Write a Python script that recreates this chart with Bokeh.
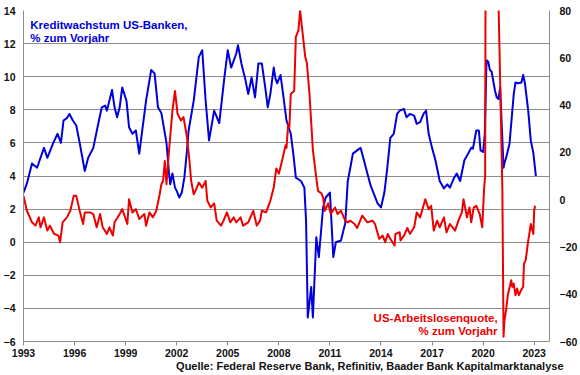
from bokeh.plotting import figure
from bokeh.models import Range1d, LinearAxis, FixedTicker, Label, Title
from bokeh.embed import file_html
from bokeh.resources import INLINE

# Credit growth of US banks, % yoy (left axis)
blue_x = [1993.0, 1993.2, 1993.5, 1993.8, 1994.0, 1994.2, 1994.4, 1994.75, 1995.0, 1995.2,
          1995.35, 1995.55, 1995.7, 1995.9, 1996.1, 1996.3, 1996.6, 1996.8, 1997.1, 1997.4,
          1997.6, 1997.8, 1997.9, 1998.2, 1998.35, 1998.5, 1998.65, 1998.8, 1999.05, 1999.2,
          1999.4, 1999.6, 1999.8, 2000.0, 2000.2, 2000.5, 2000.7, 2000.9, 2001.1, 2001.4,
          2001.55, 2001.62, 2001.75, 2001.9, 2002.0, 2002.15, 2002.3, 2002.45, 2002.6, 2002.7,
          2003.0, 2003.3, 2003.5, 2003.7, 2003.9, 2004.2, 2004.5, 2004.8, 2005.0, 2005.2,
          2005.5, 2005.6, 2005.8, 2006.05, 2006.2, 2006.4, 2006.6, 2006.8, 2007.0, 2007.2,
          2007.35, 2007.5, 2007.7, 2007.8, 2007.9, 2008.1, 2008.25, 2008.45, 2008.7, 2008.85,
          2009.0, 2009.3, 2009.5, 2009.6, 2009.7, 2009.9, 2010.0, 2010.2, 2010.35, 2010.6,
          2010.75, 2011.0, 2011.2, 2011.35, 2011.65, 2011.9, 2012.05, 2012.2, 2012.35, 2012.6,
          2012.8, 2013.0, 2013.2, 2013.4, 2013.8, 2014.0, 2014.2, 2014.35, 2014.55, 2014.75,
          2014.95, 2015.1, 2015.35, 2015.5, 2015.7, 2015.95, 2016.1, 2016.3, 2016.5, 2016.65,
          2016.8, 2017.0, 2017.2, 2017.45, 2017.7, 2017.9, 2018.05, 2018.3, 2018.45, 2018.65,
          2018.9, 2019.15, 2019.3, 2019.4, 2019.6, 2019.75, 2019.85, 2020.0, 2020.1, 2020.2,
          2020.3, 2020.4, 2020.5, 2020.7, 2020.8, 2020.9, 2021.0, 2021.1, 2021.2, 2021.25,
          2021.35, 2021.55, 2021.65, 2021.8, 2021.9, 2022.05, 2022.25, 2022.35, 2022.45, 2022.65,
          2022.8, 2022.95, 2023.1]
blue_y = [3.0, 3.55, 4.75, 4.5, 5.1, 5.7, 5.1, 6.0, 6.55, 6.0,
          7.35, 7.5, 7.75, 7.35, 7.05, 6.0, 4.3, 5.1, 5.7, 7.2,
          8.15, 8.25, 7.95, 9.2, 8.15, 7.55, 8.15, 9.35, 8.55, 6.95,
          6.55, 6.75, 5.35, 6.95, 8.55, 10.4, 10.2, 8.15, 7.8, 6.0,
          4.15, 3.5, 4.15, 3.3, 3.1, 2.7, 3.0, 3.9, 5.5, 6.75,
          8.55, 11.2, 11.6, 8.55, 6.15, 7.95, 7.2, 9.95, 11.6, 10.55,
          11.4, 11.9, 10.8, 9.75, 8.95, 9.95, 8.75, 10.8, 10.8, 9.35,
          8.15, 8.95, 10.55, 9.9, 9.6, 10.1, 8.95, 7.35, 6.55, 5.35,
          3.9, 3.7, 3.3, 1.3, -4.55, -2.7, -4.55, 0.3, -0.9, 2.1,
          2.7, 3.0, -0.9, 0.0, 0.1, 1.15, 3.7, 4.5, 5.35, 5.55,
          5.7, 4.95, 4.15, 3.4, 2.35, 2.1, 3.0, 4.3, 6.3, 6.55,
          7.75, 7.95, 8.05, 7.55, 7.75, 7.65, 7.15, 7.25, 7.75, 7.95,
          6.55, 5.7, 4.95, 3.7, 3.25, 3.5, 3.3, 3.9, 4.15, 3.7,
          4.95, 5.4, 5.7, 5.65, 6.75, 6.75, 5.55, 5.45, 6.55, 11.0,
          10.9, 10.4, 10.3, 9.15, 8.75, 8.65, 9.35, 6.95, 4.5, 4.75,
          5.1, 5.95, 7.15, 8.95, 9.65, 9.6, 9.65, 10.1, 9.65, 7.95,
          6.15, 5.4, 4.0]

# US unemployment rate, % yoy (right axis)
red_x = [1993.0, 1993.2, 1993.5, 1993.7, 1993.9, 1994.0, 1994.2, 1994.4, 1994.55, 1994.8,
         1995.05, 1995.15, 1995.3, 1995.55, 1995.75, 1995.95, 1996.1, 1996.3, 1996.5, 1996.6,
         1996.9, 1997.1, 1997.3, 1997.5, 1997.65, 1997.9, 1998.05, 1998.25, 1998.35, 1998.65,
         1998.8, 1999.1, 1999.2, 1999.4, 1999.6, 1999.8, 2000.1, 2000.2, 2000.4, 2000.6,
         2000.8, 2001.0, 2001.1, 2001.2, 2001.3, 2001.4, 2001.55, 2001.75, 2001.9, 2002.05,
         2002.25, 2002.4, 2002.6, 2002.75, 2002.85, 2003.0, 2003.1, 2003.3, 2003.5, 2003.7,
         2003.8, 2004.0, 2004.2, 2004.35, 2004.6, 2004.75, 2004.95, 2005.15, 2005.35, 2005.5,
         2005.75, 2005.9, 2006.2, 2006.5, 2006.7, 2006.9, 2007.0, 2007.25, 2007.5, 2007.7,
         2007.85, 2008.0, 2008.15, 2008.4, 2008.45, 2008.55, 2008.62, 2008.7, 2008.9, 2009.0,
         2009.15, 2009.25, 2009.4, 2009.55, 2009.65, 2009.8, 2010.0, 2010.2, 2010.3, 2010.5,
         2010.6, 2010.7, 2010.9, 2011.05, 2011.3, 2011.45, 2011.65, 2011.9, 2012.05, 2012.2,
         2012.45, 2012.6, 2012.9, 2013.2, 2013.5, 2013.65, 2013.9, 2014.1, 2014.25, 2014.4,
         2014.55, 2014.8, 2014.85, 2015.1, 2015.15, 2015.35, 2015.55, 2015.7, 2015.95, 2016.1,
         2016.3, 2016.55, 2016.6, 2016.8, 2016.95, 2017.1, 2017.3, 2017.45, 2017.7, 2017.85,
         2018.05, 2018.35, 2018.55, 2018.75, 2018.85, 2019.05, 2019.2, 2019.3, 2019.45, 2019.6,
         2019.8, 2019.95, 2020.05, 2020.12, 2020.2, 2020.3, 2020.4, 2020.5, 2020.6, 2020.7,
         2020.8, 2020.9, 2021.13, 2021.2, 2021.25, 2021.35, 2021.45, 2021.65, 2021.72, 2021.8,
         2021.9, 2022.0, 2022.1, 2022.25, 2022.35, 2022.4, 2022.5, 2022.65, 2022.7, 2022.8,
         2022.95, 2023.0, 2023.05]
red_y = [1.6, -4.7, -9.6, -11.0, -7.5, -11.7, -7.5, -13.1, -11.0, -14.5,
         -15.2, -18.0, -9.6, -7.5, -4.7, 1.6, 1.6, -4.7, -10.3, -5.4,
         -5.4, -6.1, -11.7, -6.1, -11.7, -14.5, -11.7, -15.2, -9.6, -6.1,
         -4.0, -10.3, 0.2, -5.4, -4.0, -8.2, -6.1, -11.0, -5.4, -7.5,
         -4.7, 2.3, 6.5, 7.9, 16.3, 6.5, 20.9, 37.7, 46.0, 36.3,
         33.5, 34.9, 26.5, 16.3, 7.9, 2.3, 3.7, 7.2, 5.1, 7.9,
         -0.5, -3.3, -1.6, -8.9, -11.0, -8.9, -5.4, -9.6, -7.5, -9.6,
         -7.5, -11.0, -9.6, -4.7, -11.0, -8.9, -4.7, -5.4, -0.5, 5.1,
         13.2, 11.0, 15.3, 23.0, 21.9, 32.0, 30.7, 44.7, 46.0, 68.8,
         71.6, 80.0, 70.2, 60.4, 57.6, 44.7, 20.9, 9.3, 3.7, 2.65,
         0.9, -4.7, -1.55, -6.1, -3.3, -6.1, -4.7, -8.9, -9.6, -8.9,
         -10.3, -12.0, -6.8, -9.6, -8.9, -10.3, -16.6, -15.2, -18.0, -14.5,
         -16.6, -19.4, -14.5, -13.8, -17.3, -15.2, -12.0, -14.5, -11.7, -5.4,
         -7.5, -1.2, 0.2, -4.0, -2.6, -13.1, -8.9, -11.7, -7.5, -13.8,
         -10.3, -13.1, -8.9, -5.4, 0.2, -7.5, -3.3, -9.6, -3.3, -2.6,
         -6.1, -11.7, 3.7, 10.0, 300.0, 260.0, 200.0, 170.0, 130.0, 120.0,
         90.0, 85.0, 5.0, -58.0, -51.3, -46.7, -40.4, -34.1, -36.9, -35.5,
         -40.4, -37.6, -40.4, -38.0, -36.9, -27.1, -25.7, -17.3, -15.2, -10.3,
         -14.5, -4.7, -2.6]

year_ticks = [1993, 1996, 1999, 2002, 2005, 2008, 2011, 2014, 2017, 2020, 2023]
left_ticks = [-6, -4, -2, 0, 2, 4, 6, 8, 10, 12, 14]
right_ticks = [-60, -40, -20, 0, 20, 40, 60, 80]

BLUE = "#0000dd"
RED = "#ee0000"
GRID = "#8c8c8c"
FONT = "Liberation Sans"

p = figure(width=580, height=375, output_backend="svg", toolbar_location=None,
           x_range=Range1d(1993.0, 2023.9), y_range=Range1d(-6, 14),
           min_border_left=23, min_border_right=27, min_border_top=10, min_border_bottom=34)
p.extra_y_ranges = {"r": Range1d(-60, 80)}
p.outline_line_color = None
p.background_fill_color = "white"
p.border_fill_color = "white"

p.xgrid.visible = False
p.ygrid.grid_line_color = GRID
p.ygrid.grid_line_width = 1

for ax in [p.xaxis[0], p.yaxis[0]]:
    ax.axis_line_color = GRID
    ax.major_tick_line_color = GRID
    ax.minor_tick_line_color = None
    ax.major_label_text_font = FONT
    ax.major_label_text_font_style = "bold"
    ax.major_label_text_font_size = "10.5px"
    ax.major_label_text_color = "#111111"

p.xaxis.ticker = FixedTicker(ticks=year_ticks)
p.xaxis.major_tick_in = 0
p.xaxis.major_tick_out = 4
p.xaxis.major_label_standoff = 3

p.yaxis.ticker = FixedTicker(ticks=left_ticks)
p.yaxis.major_tick_in = 0
p.yaxis.major_tick_out = 0
p.yaxis.major_label_standoff = 8

rax = LinearAxis(y_range_name="r", ticker=FixedTicker(ticks=right_ticks))
rax.axis_line_color = GRID
rax.major_tick_line_color = None
rax.minor_tick_line_color = None
rax.major_tick_in = 0
rax.major_tick_out = 0
rax.major_label_standoff = 10
rax.major_label_text_font = FONT
rax.major_label_text_font_style = "bold"
rax.major_label_text_font_size = "10.5px"
rax.major_label_text_color = "#111111"
p.add_layout(rax, "right")

p.line(blue_x, blue_y, line_color=BLUE, line_width=2, line_join="round")
p.line(red_x, red_y, line_color=RED, line_width=2, line_join="round", y_range_name="r")

def lbl(x, y, text, color, align, size="11.5px"):
    p.add_layout(Label(x=x, y=y, text=text, text_color=color, text_font=FONT,
                       text_font_style="bold", text_font_size=size,
                       text_align=align, text_baseline="middle"))

lbl(1993.4, 13.15, "Kreditwachstum US-Banken,", BLUE, "left")
lbl(1993.4, 12.35, "% zum Vorjahr", BLUE, "left")
lbl(2020.85, -4.55, "US-Arbeitslosenquote,", RED, "right")
lbl(2020.85, -5.34, "% zum Vorjahr", RED, "right")

src = Title(text="Quelle: Federal Reserve Bank, Refinitiv, Baader Bank Kapitalmarktanalyse",
            align="right", text_font=FONT, text_font_style="bold", text_font_size="11px",
            text_color="#111111", standoff=-3, offset=-14)
p.add_layout(src, "below")

open("out.html", "w").write(file_html(p, INLINE))
